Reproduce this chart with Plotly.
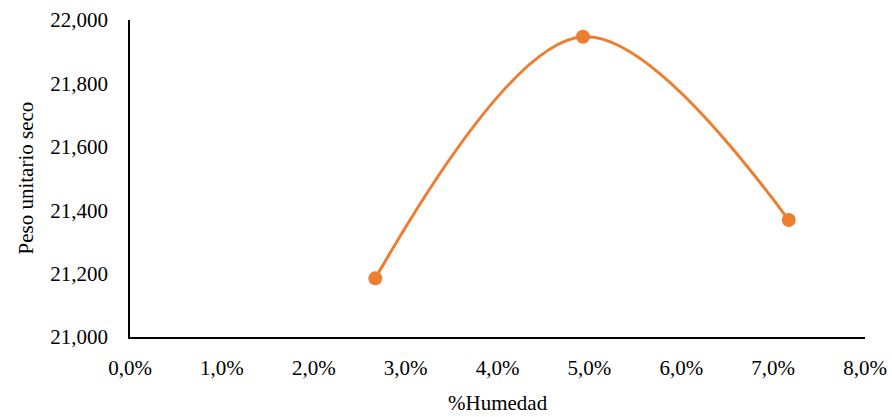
import plotly.graph_objects as go

# Data
humedad = [0.0267, 0.0493, 0.0717]
peso_unitario = [21185, 21947, 21369]

x_tickvals = [0, 0.01, 0.02, 0.03, 0.04, 0.05, 0.06, 0.07, 0.08]
x_ticktext = ["0,0%", "1,0%", "2,0%", "3,0%", "4,0%", "5,0%", "6,0%", "7,0%", "8,0%"]
y_tickvals = [21000, 21200, 21400, 21600, 21800, 22000]
y_ticktext = ["21,000", "21,200", "21,400", "21,600", "21,800", "22,000"]

orange = "#ED7D31"
font_family = "Liberation Serif"

fig = go.Figure()
fig.add_trace(go.Scatter(
    x=humedad, y=peso_unitario,
    mode="lines+markers",
    line=dict(color=orange, width=3, shape="spline", smoothing=1.0),
    marker=dict(color=orange, size=14),
    showlegend=False,
))

pw = 892 - 130 - 27
ph = 417 - 20 - 80

fig.update_layout(
    width=892, height=417,
    margin=dict(l=130, r=27, t=20, b=80, autoexpand=False),
    paper_bgcolor="white", plot_bgcolor="white",
    font=dict(family=font_family, size=21, color="black"),
    xaxis=dict(
        range=[0, 0.08], tickvals=x_tickvals, ticktext=x_ticktext,
        showgrid=False, zeroline=False, showline=True, linecolor="black", linewidth=1.5,
        ticks="", ticklabelstandoff=11, automargin=False,
        tickfont=dict(family=font_family, size=21),
    ),
    yaxis=dict(
        range=[21000, 22000], tickvals=y_tickvals, ticktext=y_ticktext,
        showgrid=False, zeroline=False, showline=True, linecolor="black", linewidth=1.5,
        ticks="", ticklabelstandoff=16, automargin=False,
        tickfont=dict(family=font_family, size=21),
    ),
    annotations=[
        dict(text="%Humedad", x=0.5, xref="paper", y=-(403 - 337) / ph, yref="paper",
             yanchor="middle", showarrow=False, font=dict(family=font_family, size=21)),
        dict(text="Peso unitario seco", x=-(130 - 25) / pw, xanchor="center", y=0.5,
             xref="paper", yref="paper", textangle=-90, showarrow=False,
             font=dict(family=font_family, size=21)),
    ],
)

fig.write_html(
    "out.html",
    config={"displayModeBar": False},
    post_script="document.body.style.margin='0';document.body.style.overflow='hidden';",
)
